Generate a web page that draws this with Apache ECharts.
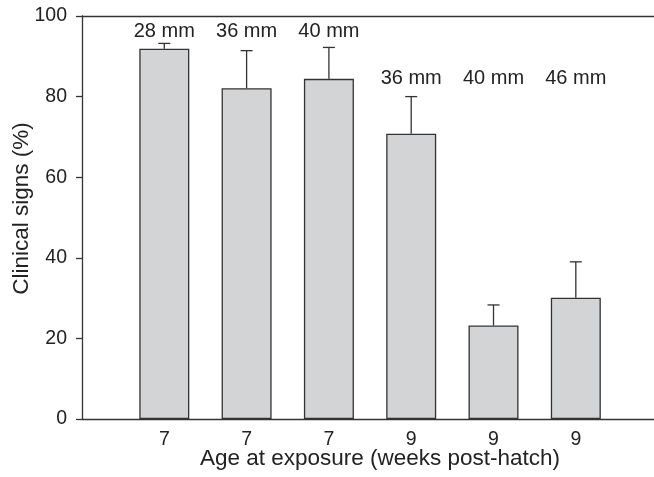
<!DOCTYPE html>
<html>
<head>
<meta charset="utf-8">
<script src="https://cdn.jsdelivr.net/npm/echarts@6/dist/echarts.min.js"></script>
<style>
html,body{margin:0;padding:0;background:#fff;overflow:hidden;}
#chart{width:654px;height:477px;}
</style>
</head>
<body>
<div id="chart"></div>
<script>
var categories = ['7', '7', '7', '9', '9', '9'];
var sizeLabels = ['28 mm', '36 mm', '40 mm', '36 mm', '40 mm', '46 mm'];
var labelLevels = [96.1, 96.1, 96.1, 84.4, 84.4, 84.4];
var means = [91.9, 82.1, 84.4, 70.8, 23.2, 30.1];
var upperErrors = [93.2, 91.4, 92.2, 80.0, 28.3, 39.0];
var yTicks = [0, 20, 40, 60, 80, 100];

var FONT = 'Liberation Sans, Arial, Helvetica, sans-serif';
var positions = categories.map(function (c, i) { return i + 1; });

var chart = echarts.init(document.getElementById('chart'), null, {renderer: 'canvas'});

var option = {
  animation: false,
  backgroundColor: '#fff',
  grid: {left: 82, top: 16, right: 0, bottom: 58, containLabel: false, outerBoundsMode: 'none'},
  xAxis: [{
    type: 'value',
    min: 0,
    max: 6.95,
    interval: 1,
    axisLine: {show: true, lineStyle: {color: '#333', width: 1.3}},
    axisTick: {show: false},
    axisLabel: {
      color: '#222', fontFamily: FONT, fontSize: 19.5, margin: 11,
      showMinLabel: false, showMaxLabel: false, hideOverlap: false,
      formatter: function (v) {
        var i = Math.round(v) - 1;
        return (Math.abs(v - Math.round(v)) < 1e-6 && i >= 0 && i < categories.length) ? categories[i] : '';
      }
    },
    name: 'Age at exposure (weeks post-hatch)',
    nameLocation: 'middle',
    nameMoveOverlap: false,
    nameGap: 28,
    nameTextStyle: {color: '#222', fontFamily: FONT, fontSize: 22.5, padding: [0, 0, 0, 24]},
    splitLine: {show: false}
  }, {
    type: 'value',
    position: 'top',
    min: 0,
    max: 6.95,
    axisLine: {show: true, lineStyle: {color: '#333', width: 1.3}},
    axisTick: {show: false},
    axisLabel: {show: false},
    splitLine: {show: false}
  }],
  yAxis: {
    type: 'value',
    min: yTicks[0],
    max: yTicks[yTicks.length - 1],
    interval: 20,
    axisLine: {show: true, lineStyle: {color: '#333', width: 1.3}},
    axisTick: {show: true, inside: false, length: 6, lineStyle: {color: '#333', width: 1.3}},
    axisLabel: {color: '#222', fontFamily: FONT, fontSize: 19.5, margin: 15},
    splitLine: {show: false},
    name: 'Clinical signs (%)',
    nameLocation: 'middle',
    nameMoveOverlap: false,
    nameGap: 49,
    nameTextStyle: {color: '#222', fontFamily: FONT, fontSize: 22.5, padding: [0, 0, 0, 18]}
  },
  series: [
    {
      type: 'bar',
      data: means.map(function (m, i) { return [positions[i], m]; }),
      barWidth: 50,
      itemStyle: {color: '#d3d4d6', borderColor: '#333', borderWidth: 1.3},
      z: 2
    },
    {
      type: 'custom',
      z: 3,
      data: means.map(function (m, i) { return [positions[i], m, upperErrors[i]]; }),
      renderItem: function (params, api) {
        var x = api.value(0);
        var lo = api.coord([x, api.value(1)]);
        var hi = api.coord([x, api.value(2)]);
        var cap = 6;
        var style = {stroke: '#333', lineWidth: 1.3};
        return {
          type: 'group',
          children: [
            {type: 'line', shape: {x1: lo[0], y1: lo[1], x2: hi[0], y2: hi[1]}, style: style},
            {type: 'line', shape: {x1: hi[0] - cap, y1: hi[1], x2: hi[0] + cap, y2: hi[1]}, style: style}
          ]
        };
      }
    },
    {
      type: 'custom',
      z: 4,
      data: sizeLabels.map(function (s, i) { return [positions[i], labelLevels[i]]; }),
      renderItem: function (params, api) {
        var p = api.coord([api.value(0), api.value(1)]);
        return {
          type: 'text',
          style: {
            text: sizeLabels[params.dataIndex],
            x: p[0], y: p[1],
            textAlign: 'center', textVerticalAlign: 'middle',
            fill: '#222', font: '20px ' + FONT
          }
        };
      }
    }
  ]
};
chart.setOption(option);
</script>
</body>
</html>
